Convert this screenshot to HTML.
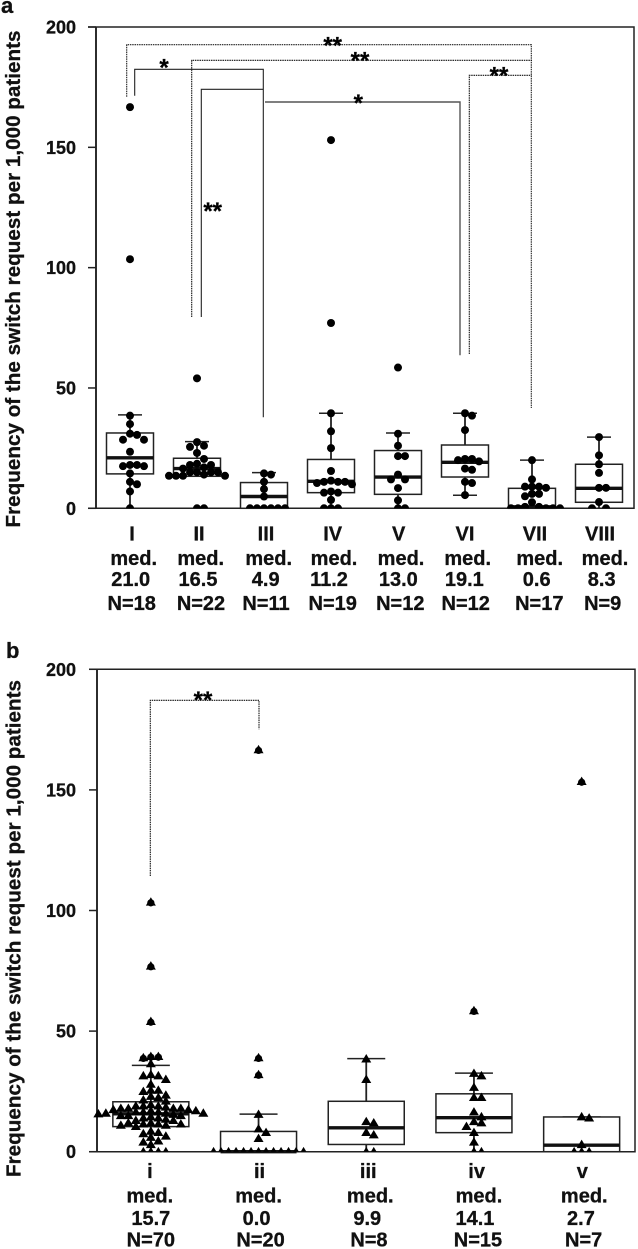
<!DOCTYPE html>
<html lang="en">
<head>
<meta charset="utf-8">
<title>Frequency of the switch request per 1,000 patients</title>
<style>
html,body{margin:0;padding:0;background:#fff;}
svg{display:block;font-family:"Liberation Sans",Arial,sans-serif;font-weight:bold;fill:#111;}
svg text{stroke:#111;stroke-width:0.3px;}
</style>
</head>
<body>
<svg id="figure" xmlns="http://www.w3.org/2000/svg" width="638" height="1249" viewBox="0 0 638 1249">
  <rect x="0" y="0" width="638" height="1249" fill="#fff"/>
  <text x="1" y="13" font-size="22">a</text>
  <text x="6" y="658" font-size="22">b</text>
  <g id="panel-a"></g>
  <g id="panel-b"></g>

  <g fill="none">
    <path d="M126.7 96.7V44.7H531.3V408" stroke="#222" stroke-width="1.1" stroke-dasharray="1.5 0.8"/>
    <path d="M191.7 317V60.3H532" stroke="#111" stroke-width="1.1" stroke-dasharray="1.5 0.8"/>
    <path d="M469.3 354V75.3H531.5" stroke="#111" stroke-width="1.1" stroke-dasharray="1.5 0.8"/>
    <path d="M134.7 95.7V69.3H263.3V417.3" stroke="#222" stroke-width="1.1"/>
    <path d="M201.3 317V89.3H263.3" stroke="#222" stroke-width="1.1"/>
    <path d="M265 102H460V355.3" stroke="#555" stroke-width="1.4"/>
  </g>
  <g font-size="24" text-anchor="middle" fill="#000">
    <text x="332.7" y="53.5">**</text>
    <text x="360" y="68.5">**</text>
    <text x="499" y="83.5">**</text>
    <text x="164" y="75.5">*</text>
    <text x="358.3" y="111">*</text>
    <text x="212.7" y="219">**</text>
  </g>
  <path d="M150.3 876V700.3H259V729.3" fill="none" stroke="#111" stroke-width="1.1" stroke-dasharray="1.5 0.8"/>
  <text x="203" y="708" font-size="24" text-anchor="middle" fill="#000">**</text>
</svg>

<script>
// ---- Panel a data ----
const categoriesA = ["I","II","III","IV","V","VI","VII","VIII"];
const countsA = [18,22,11,19,12,12,17,9];
const mediansA = [21.0,16.5,4.9,11.2,13.0,19.1,0.6,8.3];
const q1A = [14.3,13.3,0,6.5,5.8,13,0,2.5];
const q3A = [31.3,20.8,10.7,20.3,24,26.3,8.3,18.3];
const whiskerLowA = [0,13.3,0,0,0,5.4,0,0];
const whiskerHighA = [38.8,27.7,14.8,39.5,31.3,39.5,20,29.6];
const pointsA1 = [166.7,103.5,38.5,35,31,30.5,28.5,28.5,23.5,18,17.5,17.5,18,14.5,11,10,7,0];
const pointsA2 = [54,27.5,26,25.5,23,20.5,18.5,18,18,17,16.5,15,15,15,15,14,13.5,13.5,13.5,13.5,0,0];
const pointsA3 = [14.5,14,11,8,4.9,0,0,0,0,0,0];
const pointsA4 = [153,77,39.5,32,25,15.5,11.5,11,11,11,10.5,10,7,6.5,6.5,3.5,0,0,0];
const pointsA5 = [58.5,31,26,21.7,21.7,14,12,12,8.4,3.3,0,0];
const pointsA6 = [39.5,38.5,32.5,20.5,20,19.5,20.5,16.5,16,11,10.5,5.5];
const pointsA7 = [20,12,9,9,8.5,9,6,6,5,2.5,0.6,0.6,0,0,0,0,0];
const pointsA8 = [29.6,22,18.3,14.7,8.5,8.5,2.6,0,0];
const seriesA = [pointsA1,pointsA2,pointsA3,pointsA4,pointsA5,pointsA6,pointsA7,pointsA8];

// ---- Panel b data ----
const categoriesB = ["i","ii","iii","iv","v"];
const countsB = [70,20,8,15,7];
const mediansB = [15.7,0.0,9.9,14.1,2.7];
const q1B = [10.4,0,3,7.9,0];
const q3B = [20.7,8.4,20.9,24,14.4];
const whiskerLowB = [0,0,0,0,0];
const whiskerHighB = [35.8,15.6,38.6,32.6,14.4];
const pointsB1 = [103.5,77,54,39.5,39.5,39,36.5,32,31.5,31.5,30,28,25.5,25.5,25,23.5,23,22.5,21.5,21,19.5,19,19,19,18.5,18,18,18,18,17.5,17.5,17,17,16.5,16.5,16.5,16,16,16,15.7,15.5,15,15,15,14.5,14,14,13.5,13,13,12,12,11.5,11.5,11.5,11,11,10.5,8.5,8,7.5,6.5,6,4.5,4,3,0,0,0,0];
const pointsB2 = [166.7,39,32,15.5,9.5,8,5.5,0,0,0,0,0,0,0,0,0,0,0,0,0];
const pointsB3 = [38.5,30,12.5,12,8,7,0,0];
const pointsB4 = [58.5,32.5,31.5,26.7,22.5,22.5,16.5,14.5,12.5,12,10.5,8,4,0,0];
const pointsB5 = [153.5,14.5,14,3,0,0,0];
const seriesB = [pointsB1,pointsB2,pointsB3,pointsB4,pointsB5];

const yTicks = [0,50,100,150,200];
const yTitle = "Frequency of the switch request per 1,000 patients";
const NS = "http://www.w3.org/2000/svg";

function svgEl(parent, tag, attrs){
  const el = document.createElementNS(NS, tag);
  for (const k in attrs) el.setAttribute(k, attrs[k]);
  parent.appendChild(el);
  return el;
}

// Deterministic beeswarm: nearest free horizontal offset for each point.
function swarmOffsets(values, yScale, gap, minDist){
  const order = values.map((v,i)=>i).sort((a,b)=>values[b]-values[a]);
  const placed = [];
  const out = new Array(values.length).fill(0);
  order.forEach(function(i){
    const py = yScale(values[i]);
    for (let k = 0; k < 60; k++){
      const off = (k % 2 ? 1 : -1) * Math.ceil(k / 2) * gap;
      const clash = placed.some(function(p){
        const dx = p.x - off, dy = p.y - py;
        return dx*dx + dy*dy < minDist*minDist;
      });
      if (!clash){
        placed.push({x:off,y:py});
        out[i] = off;
        break;
      }
    }
  });
  return out;
}

function drawPanel(cfg){
  const root = document.getElementById(cfg.id);
  const yScale = function(v){ return cfg.y0 - v * (cfg.y0 - cfg.yTop) / 200; };
  const xScale = function(i){ return cfg.xLeft + (i + 0.5) * cfg.band; };

  // frame
  const frame = svgEl(root, "path", {d:"M"+(cfg.axisX-8)+" "+cfg.yTop+"H"+cfg.xRight+"V"+cfg.y0+"H"+(cfg.axisX-8), fill:"none", stroke:"#222", "stroke-width":1.5});
  
  
  const axis = svgEl(root, "line", {x1:cfg.axisX, x2:cfg.axisX, y1:cfg.yTop, y2:cfg.y0, stroke:"#222", "stroke-width":1.9});
  
  

  // clip: marks resting on zero are cut off at the x axis
  const clip = svgEl(root, "clipPath", {id:cfg.id + "-clip"});
  
  
  const clipRect = svgEl(clip, "rect", {x:cfg.axisX - 8, y:cfg.yTop, width:cfg.xRight - cfg.axisX + 8, height:cfg.y0 - cfg.yTop});
  
  

  // y ticks
  yTicks.forEach(function(t){
    const tick = svgEl(root, "line", {x1:cfg.axisX-8, x2:cfg.axisX, y1:yScale(t), y2:yScale(t), stroke:"#222", "stroke-width":1.5});
    
    
    const lab = svgEl(root, "text", {x:76, y:yScale(t)+6.5, "font-size":18, "text-anchor":"end"});
    lab.textContent = t;
    
    
  });

  // y title
  const title = svgEl(root, "text", {transform:"translate("+cfg.titleX+" "+cfg.titleY+") rotate(-90)", "font-size":20.6, textLength:497, lengthAdjust:"spacingAndGlyphs"});
  title.textContent = yTitle;
  
  

  cfg.categories.forEach(function(cat, i){
    const cx = xScale(i);
    const hw = cfg.boxW / 2, capW = cfg.capW / 2;

    const stem = svgEl(root, "path", {d:"M"+cx+" "+yScale(cfg.q3[i])+"V"+yScale(cfg.whiskerHigh[i])+"M"+cx+" "+yScale(cfg.q1[i])+"V"+yScale(cfg.whiskerLow[i]), stroke:"#222", "stroke-width":1.8, fill:"none"});
    
    

    const capTop = svgEl(root, "line", {x1:cx-capW, x2:cx+capW, y1:yScale(cfg.whiskerHigh[i]), y2:yScale(cfg.whiskerHigh[i]), stroke:"#222", "stroke-width":1.5});
    
    

    const capLow = svgEl(root, "line", {x1:cx-capW, x2:cx+capW, y1:yScale(cfg.whiskerLow[i]), y2:yScale(cfg.whiskerLow[i]), stroke:"#222", "stroke-width":1.5, opacity: (cfg.whiskerLow[i] < cfg.q1[i] && cfg.whiskerLow[i] > 0) ? 1 : 0});
    
    

    const box = svgEl(root, "rect", {x:cx-hw, y:yScale(cfg.q3[i]), width:cfg.boxW, height:yScale(cfg.q1[i])-yScale(cfg.q3[i]), fill:"#fff", stroke:"#222", "stroke-width":1.5});
    
    

    const med = svgEl(root, "line", {x1:cx-hw, x2:cx+hw, y1:yScale(cfg.medians[i]), y2:yScale(cfg.medians[i]), stroke:"#111", "stroke-width":3.4});
    
    

    const vals = cfg.series[i];
    const offs = swarmOffsets(vals, yScale, cfg.gap, cfg.minDist);
    const marks = svgEl(root, "g", {"clip-path":"url(#" + cfg.id + "-clip)"});
    
    
    vals.forEach(function(v, j){
      const px = cx + offs[j], py = yScale(v);
      if (cfg.marker === "circle" || v > cfg.whiskerHigh[i] + 1){
        const dot = svgEl(marks, "circle", {cx:px, cy:py + (cfg.marker === "circle" ? 0 : 0.8), r: cfg.marker === "circle" ? 4 : 3.6, fill:"#000"});
        
        
      }
      if (cfg.marker === "triangle"){
        const tri = svgEl(marks, "path", {d:"M"+px+" "+(py-4.8)+"L"+(px+5)+" "+(py+3.6)+"H"+(px-5)+"Z", fill:"#000"});
        
        
      }
    });

    // category label stack
    const n = cfg.nudge[i];
    const rows = [cat, "med.", cfg.medians[i].toFixed(1), "N=" + cfg.counts[i]];
    const rowNames = ["x-category-label", "x-median-caption", "x-median-value", "x-count-label"];
    rows.forEach(function(txt, r){
      const t = svgEl(root, "text", {x:cx + n[r], y:cfg.labelY[r], "font-size":20, "text-anchor":"middle"});
      t.textContent = txt;
      
      
    });
  });
}

drawPanel({
  id:"panel-a", categories:categoriesA, counts:countsA, medians:mediansA, q1:q1A, q3:q3A,
  whiskerLow:whiskerLowA, whiskerHigh:whiskerHighA, series:seriesA, marker:"circle",
  y0:508.3, yTop:27, axisX:96, xLeft:96.5, band:67, xRight:634, boxW:47, capW:24, gap:7, minDist:6.7,
  titleX:20, titleY:527.5, labelY:[540.7,565,586,610],
  nudge:[[2,3.7,.7,1.7],[2,3.7,1,4],[2,4.7,1.7,2],[1.7,3,-2,1.7],[.7,3,.3,2.3],[0,2.7,-.7,.7],[3,7.7,4.7,7.3],[1,6,2.7,3.7]]
});

drawPanel({
  id:"panel-b", categories:categoriesB, counts:countsB, medians:mediansB, q1:q1B, q3:q3B,
  whiskerLow:whiskerLowB, whiskerHigh:whiskerHighB, series:seriesB, marker:"triangle",
  y0:1151.7, yTop:669.3, axisX:97, xLeft:97, band:107.7, xRight:635, boxW:76, capW:38, gap:7.5, minDist:6,
  titleX:20.5, titleY:1177, labelY:[1178,1202.7,1225,1246.7],
  nudge:[[-1,-1,0,0],[1,0,-2,2],[2,4,1,2.7],[2.7,5,1,4],[.6,2.6,-.7,2]]
});
</script>
</body>
</html>
